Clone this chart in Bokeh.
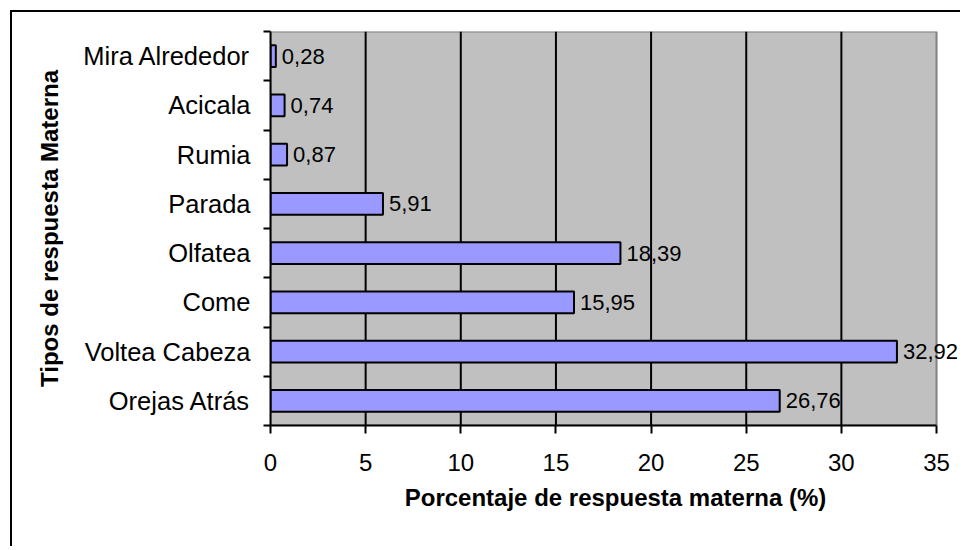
from bokeh.plotting import figure
from bokeh.models import FixedTicker, Range1d, ColumnDataSource
from bokeh.core.properties import value
from bokeh.embed import file_html
from bokeh.resources import INLINE

categories = ["Orejas Atrás", "Voltea Cabeza", "Come", "Olfatea",
              "Parada", "Rumia", "Acicala", "Mira Alrededor"]
values = [26.76, 32.92, 15.95, 18.39, 5.91, 0.87, 0.74, 0.28]
x_ticks = [0, 5, 10, 15, 20, 25, 30, 35]
x_title = "Porcentaje de respuesta materna (%)"
y_title = "Tipos de respuesta Materna"

pos = [i + 0.5 for i in range(len(categories))]
boundaries = list(range(len(categories) + 1))
labels = [f"{v:.2f}".replace(".", ",") for v in values]
src = ColumnDataSource(dict(y=pos, v=values, lab=labels))

FONT = "Liberation Sans"
X0, X1 = x_ticks[0], x_ticks[-1]
Y0, Y1 = boundaries[0], boundaries[-1]

# frame extends past the plot area (white) so the value labels are not clipped
p = figure(width=950, height=536,
           x_range=Range1d(X0, 36.26),
           y_range=Range1d(Y0, Y1),
           output_backend="svg", toolbar_location=None,
           min_border_left=258, min_border_right=2,
           min_border_top=19, min_border_bottom=123,
           background_fill_color="white", border_fill_color="white",
           outline_line_color=None)
p.styles = {"border-left": "2px solid black", "border-top": "2px solid black",
            "margin-left": "10px", "margin-top": "10px"}

# gray plot area
p.quad(left=[X0], right=[X1], bottom=[Y0], top=[Y1],
       fill_color="#C0C0C0", line_color="#808080", line_width=2)
# vertical grid lines
p.segment(x0=x_ticks[1:-1], y0=Y0, x1=x_ticks[1:-1], y1=Y1,
          line_color="black", line_width=2)

p.hbar(y="y", left=0, right="v", height=0.44, source=src,
       fill_color="#9999FF", line_color="black", line_width=2)

p.text(x="v", y="y", text="lab", source=src, x_offset=6,
       text_baseline="middle", text_align="left",
       text_font=value(FONT), text_font_size="22px", text_color="black")

p.xgrid.visible = False
p.ygrid.visible = False

# x axis
xa = p.xaxis[0]
xa.ticker = FixedTicker(ticks=x_ticks)
xa.bounds = (X0, X1)
xa.axis_line_color = "black"
xa.axis_line_width = 2
xa.major_tick_out = 8
xa.major_tick_in = 0
xa.major_tick_line_width = 2
xa.minor_tick_line_color = None
xa.major_label_text_font = FONT
xa.major_label_text_font_size = "24px"
xa.major_label_text_color = "black"
xa.major_label_standoff = 20
xa.axis_label = x_title
xa.axis_label_text_font = FONT
xa.axis_label_text_font_style = "bold"
xa.axis_label_text_font_size = "24px"
xa.axis_label_text_color = "black"
xa.axis_label_standoff = 10

# y axis
ya = p.yaxis[0]
ya.ticker = FixedTicker(ticks=pos, minor_ticks=boundaries)
ya.major_label_overrides = dict(zip(pos, categories))
ya.axis_line_color = "black"
ya.axis_line_width = 2
ya.major_tick_out = 0
ya.major_tick_in = 0
ya.minor_tick_out = 7
ya.minor_tick_in = 0
ya.minor_tick_line_color = "black"
ya.minor_tick_line_width = 2
ya.major_label_text_font = FONT
ya.major_label_text_font_size = "25.5px"
ya.major_label_text_color = "black"
ya.major_label_standoff = 13
ya.axis_label = y_title
ya.axis_label_text_font = FONT
ya.axis_label_text_font_style = "bold"
ya.axis_label_text_font_size = "24px"
ya.axis_label_text_color = "black"
ya.axis_label_standoff = 17

open("out.html", "w").write(file_html(p, INLINE))
